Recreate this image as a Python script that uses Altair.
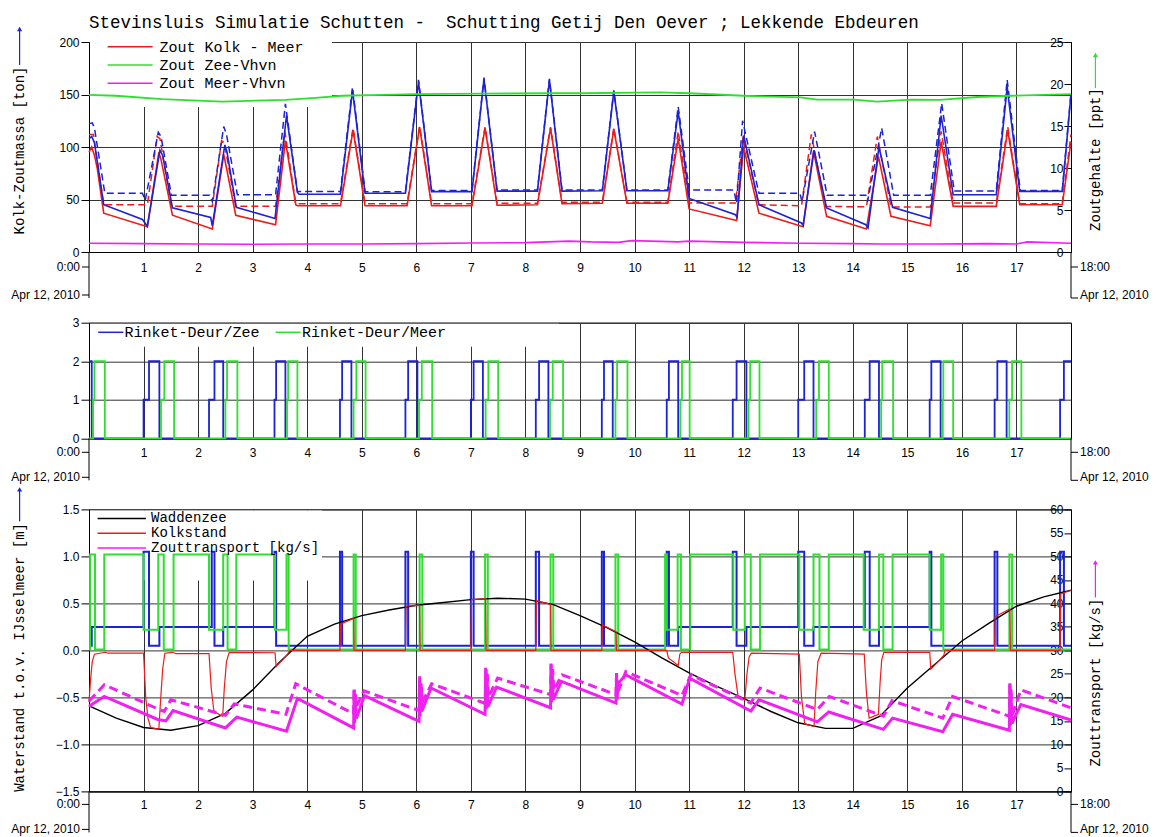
import altair as alt
import pandas as pd

# ---------------- texts ----------------
TITLE = "Stevinsluis Simulatie Schutten -\u00a0 Schutting Getij Den Oever ; Lekkende Ebdeuren"
START_LABEL = "0:00"
END_LABEL = "18:00"
DATE_LABEL = "Apr 12, 2010"
HOURS = list(range(1, 18))

P1_LEFT_TITLE = "Kolk-Zoutmassa [ton]"
P1_RIGHT_TITLE = "Zoutgehalte [ppt]"
P1_LEGEND = ["Zout Kolk - Meer", "Zout Zee-Vhvn", "Zout Meer-Vhvn"]
P1_TON_TICKS = [0, 50, 100, 150, 200]
P1_PPT_TICKS = [0, 5, 10, 15, 20, 25]

P2_LEGEND = ["Rinket-Deur/Zee", "Rinket-Deur/Meer"]
P2_TICKS = [0, 1, 2, 3]

P3_LEFT_TITLE = "Waterstand t.o.v. IJsselmeer [m]"
P3_RIGHT_TITLE = "Zouttransport [kg/s]"
P3_LEGEND = ["Waddenzee", "Kolkstand", "Zouttransport [kg/s]"]
P3_M_TICKS = [-1.5, -1.0, -0.5, 0.0, 0.5, 1.0, 1.5]
P3_KG_TICKS = [0, 5, 10, 15, 20, 25, 30, 35, 40, 45, 50, 55, 60]

# ---------------- panel 1 data: (hour, value) ----------------
# ton (left axis)
KOLK_MEER = [(0.0, 95), (0.05, 100), (0.1, 92), (0.15, 80), (0.27, 37), (1.07, 24), (1.28, 95), (1.32, 88),
             (1.53, 35), (2.26, 22), (2.47, 93), (2.52, 80), (2.69, 35), (3.42, 26), (3.6, 106), (3.79, 45),
             (3.82, 44), (4.61, 44), (4.84, 116), (5.06, 44), (5.83, 44), (6.06, 119), (6.28, 44), (7.02, 44),
             (7.26, 118), (7.48, 44.5), (8.22, 45), (8.46, 118), (8.67, 46), (9.41, 46.5), (9.62, 117),
             (9.86, 46.5), (10.61, 46.5), (10.8, 108), (11.0, 41), (11.87, 30), (12.0, 100), (12.28, 37),
             (13.09, 24), (13.28, 96), (13.52, 34), (14.25, 22), (14.47, 91), (14.7, 34), (15.42, 25),
             (15.62, 105), (15.84, 43.5), (16.63, 43.5), (16.84, 116), (17.06, 45), (17.84, 45), (18.0, 105)]
KOLK_MEER_B = [(0.0, 112), (0.08, 112), (0.27, 45), (1.07, 45), (1.25, 110), (1.3, 108), (1.51, 43.5),
               (2.26, 43.5), (2.43, 106), (2.48, 104), (2.69, 43.5), (3.42, 43.5), (3.59, 115), (3.79, 46),
               (4.61, 46), (4.84, 118), (5.06, 46), (5.83, 46), (6.06, 120), (6.28, 46), (7.02, 46), (7.26, 119),
               (7.48, 46.5), (8.22, 46.5), (8.46, 119), (8.67, 47.5), (9.41, 47.5), (9.62, 118), (9.86, 47.5),
               (10.61, 47.5), (10.8, 115), (11.0, 46.6), (11.85, 46.6), (11.99, 110), (12.28, 45), (13.06, 44),
               (13.24, 112), (13.5, 43.4), (14.25, 43), (14.45, 110), (14.7, 42.8), (15.42, 42.8), (15.62, 115),
               (15.84, 46.6), (16.63, 46.6), (16.84, 119.5), (17.06, 46), (17.84, 46), (18.0, 112)]
KOLK_ZEE = [(0.0, 108), (0.05, 110), (0.1, 104), (0.27, 45), (0.98, 31), (1.07, 24.5), (1.3, 97), (1.35, 92),
            (1.53, 42), (2.23, 33), (2.26, 25), (2.49, 102), (2.53, 95), (2.7, 42.5), (3.41, 32), (3.62, 130),
            (3.82, 57), (3.85, 55), (4.61, 55), (4.83, 154), (5.06, 56), (5.8, 56), (6.04, 162), (6.28, 57.5),
            (7.02, 57.5), (7.24, 165), (7.48, 58), (8.22, 58), (8.44, 164), (8.67, 58), (9.41, 58.3),
            (9.62, 153), (9.86, 58.3), (10.61, 58.3), (10.8, 134), (11.0, 51), (11.85, 35.5), (11.88, 33),
            (12.0, 111), (12.28, 45), (13.06, 27.6), (13.09, 25.4), (13.29, 97), (13.52, 42), (14.24, 26),
            (14.28, 23), (14.48, 100), (14.73, 42.5), (15.42, 32), (15.62, 130), (15.84, 54.5), (16.63, 54.5),
            (16.83, 157), (17.06, 57.7), (17.84, 57.7), (18.0, 150)]
KOLK_ZEE_B = [(0.0, 122), (0.06, 123), (0.1, 118), (0.29, 56), (0.98, 56), (1.03, 49), (1.27, 114), (1.32, 110),
              (1.51, 54), (2.21, 54), (2.26, 48), (2.47, 119.5), (2.52, 112), (2.72, 54.5), (3.42, 54.5),
              (3.6, 141), (3.82, 57.7), (4.61, 57.7), (4.83, 157), (5.06, 57.5), (5.8, 57.5), (6.04, 164),
              (6.28, 58.5), (7.02, 58.5), (7.24, 166), (7.48, 59), (8.22, 59), (8.44, 165), (8.67, 59),
              (9.41, 59), (9.62, 154), (9.86, 59), (10.61, 59), (10.8, 138.5), (11.0, 59), (11.82, 59),
              (11.87, 46.6), (11.98, 125), (12.28, 56), (13.03, 56), (13.07, 48), (13.3, 114.7), (13.53, 54),
              (14.24, 54), (14.27, 48), (14.53, 118), (14.75, 54), (15.42, 54), (15.63, 141.7), (15.86, 58),
              (16.63, 58), (16.83, 164), (17.07, 58.5), (17.84, 58.5), (18.0, 152)]
# ppt (right axis)
ZEE_VHVN = [(0, 18.7), (0.49, 18.6), (1.34, 18.2), (2.44, 17.9), (2.93, 18.0), (3.6, 18.1), (4.15, 18.35),
            (4.64, 18.6), (5.38, 18.7), (5.99, 18.8), (7.21, 18.85), (8.43, 18.9), (9.0, 18.9), (10.48, 19.0),
            (11.0, 18.9), (12.0, 18.6), (13.04, 18.4), (13.35, 18.15), (14.02, 18.15), (14.45, 17.9),
            (15.06, 18.15), (15.6, 18.1), (16.28, 18.45), (16.89, 18.6), (18.0, 18.8)]
MEER_VHVN = [(0, 1.05), (1, 1.0), (2, 0.95), (3, 0.92), (4, 0.95), (5, 0.95), (6, 1.0), (7, 1.08), (8, 1.12),
             (8.8, 1.3), (9.2, 1.2), (9.7, 1.15), (9.95, 1.35), (10.8, 1.2), (11.0, 1.3), (12.0, 1.15),
             (13.0, 1.05), (14.0, 1.0), (14.5, 0.95), (15.5, 0.95), (16.5, 1.0), (17.0, 0.95), (17.2, 1.2),
             (18.0, 1.05)]

# ---------------- panel 2 data (step after) ----------------
DEUR_ZEE = [(0, 2), (0.05, 0), (1.0, 1), (1.1, 2), (1.29, 0), (2.2, 1), (2.3, 2), (2.46, 0), (3.40, 1),
            (3.43, 2), (3.6, 0), (4.6, 1), (4.64, 2), (4.81, 0), (5.8, 1), (5.85, 2), (6.02, 0), (7.0, 1),
            (7.05, 2), (7.22, 0), (8.19, 1), (8.25, 2), (8.42, 0), (9.40, 1), (9.44, 2), (9.60, 0), (10.59, 1),
            (10.63, 2), (10.80, 0), (11.80, 1), (11.87, 2), (12.05, 0), (13.0, 1), (13.11, 2), (13.28, 0),
            (14.22, 1), (14.31, 2), (14.48, 0), (15.41, 1), (15.44, 2), (15.61, 0), (16.60, 1), (16.65, 2),
            (16.82, 0), (17.80, 1), (17.87, 2), (18.0, 2)]
DEUR_MEER = [(0, 0), (0.075, 1), (0.1, 2), (0.29, 0), (1.32, 1), (1.38, 2), (1.56, 0), (2.5, 1), (2.53, 2),
             (2.72, 0), (3.63, 1), (3.65, 2), (3.82, 0), (4.85, 1), (4.9, 2), (5.07, 0), (6.05, 1), (6.1, 2),
             (6.29, 0), (7.27, 1), (7.32, 2), (7.5, 0), (8.45, 1), (8.5, 2), (8.69, 0), (9.65, 1), (9.68, 2),
             (9.87, 0), (10.84, 1), (10.87, 2), (11.01, 0), (12.09, 1), (12.12, 2), (12.29, 0), (13.33, 1),
             (13.38, 2), (13.56, 0), (14.52, 1), (14.54, 2), (14.74, 0), (15.65, 1), (15.66, 2), (15.84, 0),
             (16.87, 1), (16.92, 2), (17.09, 0), (18.0, 0)]

# ---------------- panel 3 data ----------------
# metres (left axis)
WADDENZEE = [(0, -0.59), (0.5, -0.72), (1.0, -0.82), (1.5, -0.85), (2.0, -0.8), (2.5, -0.67), (3.0, -0.42),
             (3.5, -0.12), (4.0, 0.15), (4.5, 0.28), (5.0, 0.37), (5.5, 0.43), (6.0, 0.48), (6.5, 0.51),
             (7.0, 0.54), (7.5, 0.555), (8.0, 0.545), (8.5, 0.49), (9.0, 0.37), (9.5, 0.24), (10.0, 0.09),
             (10.5, -0.08), (11.0, -0.24), (11.5, -0.38), (12.0, -0.51), (12.5, -0.65), (13.0, -0.77),
             (13.5, -0.83), (14.0, -0.83), (14.5, -0.7), (15.0, -0.4), (15.5, -0.15), (16.0, 0.1), (16.5, 0.29),
             (17.0, 0.47), (17.5, 0.57), (18.0, 0.64)]
KOLKSTAND = [(0, -0.55), (0.03, -0.3), (0.06, -0.12), (0.1, -0.04), (0.3, -0.02), (0.35, -0.03), (1.0, -0.03),
             (1.04, -0.5), (1.08, -0.72), (1.13, -0.82), (1.28, -0.84), (1.31, -0.55), (1.35, -0.2),
             (1.39, -0.03), (1.53, -0.02), (1.6, -0.035), (2.2, -0.035), (2.24, -0.4), (2.29, -0.65),
             (2.45, -0.7), (2.48, -0.4), (2.52, -0.12), (2.57, -0.02), (3.41, -0.025), (3.43, -0.17),
             (3.55, -0.1), (3.64, -0.04), (3.68, 0.0), (4.6, 0.0), (4.61, 0.28), (4.85, 0.34), (4.86, 0.0),
             (5.8, 0.0), (5.81, 0.47), (6.06, 0.48), (6.07, 0.0), (7.0, 0.0), (7.01, 0.54), (7.27, 0.55),
             (7.28, 0.0), (8.19, 0.0), (8.2, 0.53), (8.46, 0.49), (8.47, 0.0), (9.4, 0.0), (9.41, 0.27),
             (9.66, 0.2), (9.67, 0.0), (10.59, 0.0), (10.62, -0.08), (10.8, -0.16), (10.83, -0.04),
             (10.86, -0.02), (11.8, -0.02), (11.84, -0.25), (11.9, -0.5), (12.02, -0.53), (12.06, -0.25),
             (12.1, -0.07), (12.14, -0.03), (13.02, -0.04), (13.06, -0.5), (13.12, -0.78), (13.29, -0.81),
             (13.32, -0.45), (13.36, -0.12), (13.42, -0.03), (14.21, -0.04), (14.25, -0.45), (14.3, -0.72),
             (14.47, -0.68), (14.5, -0.35), (14.53, -0.1), (14.57, -0.02), (15.41, -0.02), (15.43, -0.2),
             (15.55, -0.13), (15.67, -0.05), (15.69, 0.0), (16.6, 0.0), (16.61, 0.36), (16.88, 0.44),
             (16.89, 0.0), (17.8, 0.0), (17.81, 0.6), (18.0, 0.64)]
SCHUIF_ZEE = [(0, 0.05), (0.05, 0.25), (1.0, 1.05), (1.1, 0.05), (1.29, 0.25), (2.25, 1.05), (2.3, 0.05),
              (2.46, 0.25), (3.40, 1.05), (3.43, 0.05), (4.6, 1.05), (4.64, 0.05), (5.8, 1.05), (5.85, 0.05),
              (7.0, 1.05), (7.05, 0.05), (8.19, 1.05), (8.25, 0.05), (9.40, 1.05), (9.44, 0.05), (10.59, 1.05),
              (10.63, 0.05), (10.80, 0.25), (11.80, 1.05), (11.87, 0.05), (12.05, 0.25), (13.0, 1.05),
              (13.11, 0.05), (13.28, 0.25), (14.22, 1.05), (14.31, 0.05), (14.48, 0.25), (15.41, 1.05),
              (15.44, 0.05), (16.60, 1.05), (16.65, 0.05), (17.80, 1.05), (17.87, 0.05), (18.0, 0.05)]
SCHUIF_MEER = [(0, 0.01), (0.02, 1.02), (0.11, 0.01), (0.28, 1.02), (1.0, 0.22), (1.27, 1.02), (1.37, 0.01),
               (1.55, 1.02), (2.2, 0.22), (2.46, 1.02), (2.54, 0.01), (2.7, 1.02), (3.41, 0.22), (3.62, 1.02),
               (3.66, 0.01), (4.85, 1.02), (4.89, 0.01), (6.06, 1.02), (6.11, 0.01), (7.26, 1.02), (7.31, 0.01),
               (8.46, 1.02), (8.51, 0.01), (9.65, 1.02), (9.70, 0.01), (10.56, 1.02), (10.59, 0.22),
               (10.79, 1.02), (10.85, 0.01), (11.02, 1.02), (11.81, 0.22), (12.02, 1.02), (12.13, 0.01),
               (12.3, 1.02), (13.02, 0.22), (13.28, 1.02), (13.39, 0.01), (13.56, 1.02), (14.2, 0.22),
               (14.48, 1.02), (14.56, 0.01), (14.73, 1.02), (15.41, 0.22), (15.62, 1.02), (15.66, 0.01),
               (16.87, 1.02), (16.92, 0.01), (18.0, 0.01)]
# kg/s (right axis)
TRANSPORT = [(0.0, 18.1), (0.28, 20.2), (1.26, 15.3), (1.41, 15.0), (1.54, 17.2), (2.5, 13.5), (2.71, 15.8),
             (3.62, 12.8), (3.82, 19.8), (4.85, 13.5), (4.86, 21.5), (4.87, 14.5), (4.88, 20.5), (4.9, 15.5),
             (5.05, 20.4), (6.05, 14.9), (6.06, 24.5), (6.07, 16), (6.08, 23), (6.1, 17), (6.27, 22.0),
             (7.26, 16.4), (7.27, 26.3), (7.28, 17.5), (7.29, 25), (7.31, 18), (7.47, 22.2), (8.46, 17.8),
             (8.47, 27), (8.48, 19), (8.49, 25.5), (8.51, 19.5), (8.66, 23.4), (9.66, 18.8), (9.67, 25.2),
             (9.68, 19.5), (9.7, 23), (9.84, 24.8), (10.87, 18.6), (11.01, 24.1), (12.13, 17.1), (12.28, 19.5),
             (13.35, 14.8), (13.56, 16.9), (14.56, 13.2), (14.73, 15.6), (15.65, 12.7), (15.83, 16.4),
             (16.87, 13.0), (16.88, 23), (16.89, 14), (16.9, 21), (16.92, 14.5), (17.08, 18.5), (18.0, 15.2)]
TRANSPORT_B = [(0.0, 19.2), (0.28, 22.7), (1.29, 17.4), (1.38, 17.0), (1.5, 19.5), (2.5, 16.2), (2.66, 18.6),
               (3.61, 16.4), (3.79, 22.9), (4.85, 16.5), (4.86, 22), (4.87, 17), (4.88, 21), (4.9, 18),
               (5.04, 21.4), (6.05, 17.2), (6.06, 24.5), (6.07, 18), (6.09, 23), (6.11, 19), (6.28, 22.9),
               (7.27, 18.7), (7.28, 26), (7.29, 19.5), (7.3, 25), (7.32, 20), (7.49, 24.1), (8.46, 20.6),
               (8.47, 27.2), (8.48, 21), (8.5, 26), (8.52, 21.5), (8.67, 24.8), (9.66, 20.6), (9.67, 25),
               (9.69, 21), (9.84, 25.5), (10.87, 20.4), (11.03, 24.8), (12.13, 18.8), (12.3, 22.0),
               (13.35, 17.4), (13.57, 20.2), (14.56, 16.0), (14.72, 19.3), (15.65, 15.6), (15.83, 20.2),
               (16.87, 16.0), (16.88, 23.2), (16.89, 15), (16.9, 22), (16.92, 16), (17.08, 21.6), (18.0, 17.8)]

# ---------------- styling ----------------
MONO = "Liberation Mono"
SANS = "Liberation Sans"
RED = "#ec1c1c"
BLUE = "#1c22d6"
GREEN = "#2ee02e"
MAGENTA = "#f020f0"
GRID = "#333333"
W = 982
H1, H2, H3 = 210, 115.6, 282
ONE = alt.Data(values=[{}])


def x_axis(pad):
    return alt.Axis(values=HOURS, grid=True, ticks=False, tickSize=0, labelPadding=pad, labelBaseline="middle",
                    labelFont=SANS, labelFontSize=12, labelAngle=0, labelFlush=False, title=None,
                    domainColor="black", gridColor=GRID, gridOpacity=1, labelColor="black")


def left_axis(ticks, title=None, ty=0, fmt=None, grid=True):
    kw = dict(values=ticks, orient="left", grid=grid, gridColor=GRID, gridOpacity=1, tickSize=8, labelPadding=2,
              labelFont=SANS, labelFontSize=12, labelColor="black", tickColor="black", domainColor="black")
    if fmt:
        kw["format"] = fmt
    if title:
        kw.update(title=title, titleX=-69.4, titleY=ty, titleAngle=270, titleAlign="center",
                  titleBaseline="middle", titleFont=MONO, titleFontSize=14, titleFontWeight="normal",
                  titleColor="black")
    else:
        kw["title"] = None
    return alt.Axis(**kw)


def inner_right_axis(ticks, title, ty):
    return alt.Axis(values=ticks, orient="left", offset=-W, grid=False, tickSize=7, labelPadding=1,
                    labelFont=SANS, labelFontSize=12, labelColor="black", tickColor="black",
                    domainColor="black", title=title, titleX=24.4, titleY=ty, titleAngle=270,
                    titleAlign="center", titleBaseline="middle", titleFont=MONO, titleFontSize=14,
                    titleFontWeight="normal", titleColor="black")


def line(pairs, xax, domain, yax, color, width, dash=None, interp="linear"):
    kw = dict(color=color, strokeWidth=width, interpolate=interp, clip=False)
    if dash:
        kw["strokeDash"] = dash
    return alt.Chart(pd.DataFrame(pairs, columns=["t", "v"])).mark_line(**kw).encode(
        x=alt.X("t:Q", scale=alt.Scale(domain=[0, 18], nice=False, zero=False), axis=xax),
        y=alt.Y("v:Q", scale=alt.Scale(domain=domain, nice=False, zero=False), axis=yax),
    )


def rule(x, y, x2=None, y2=None, color="black", width=1.0):
    enc = dict(x=alt.value(x), y=alt.value(y))
    if x2 is not None:
        enc["x2"] = alt.value(x2)
    if y2 is not None:
        enc["y2"] = alt.value(y2)
    return alt.Chart(ONE).mark_rule(color=color, strokeWidth=width).encode(**enc)


def label(text, x, y, align="left", font=SANS, size=12):
    return alt.Chart(pd.DataFrame({"label": [text]})).mark_text(
        align=align, baseline="middle", font=font, fontSize=size, color="black").encode(
        x=alt.value(x), y=alt.value(y), text="label:N")


def box(x1, x2, y1, y2):
    return alt.Chart(ONE).mark_rect(color="white", opacity=1).encode(
        x=alt.value(x1), x2=alt.value(x2), y=alt.value(y1), y2=alt.value(y2))


def arrow(x, ytop, ybot, color):
    return [rule(x, ytop + 3, y2=ybot, color=color, width=1.2),
            alt.Chart(ONE).mark_point(shape="triangle-up", filled=True, size=26, color=color, opacity=1).encode(
                x=alt.value(x), y=alt.value(ytop + 3))]


def x_deco(h, lab, apr):
    return [
        rule(0, h, y2=h + apr + 3), rule(W, h, y2=h + apr + 3),
        rule(-7, h + lab, x2=0), rule(-7, h + apr, x2=0),
        rule(W, h + lab, x2=W + 7), rule(W, h + apr + 3, x2=W + 7),
        label(START_LABEL, -9, h + lab, align="right"),
        label(DATE_LABEL, -9, h + apr, align="right"),
        label(END_LABEL, W + 9, h + lab),
        label(DATE_LABEL, W + 9, h + apr),
    ]


def legend_entry(name, color, x1, x2, tx, y, width=1.5, size=15):
    return [rule(x1, y, x2=x2, color=color, width=width), label(name, tx, y, font=MONO, size=size)]


# ---------------- panel 1 ----------------
xa1 = x_axis(15)
la1 = left_axis(P1_TON_TICKS, P1_LEFT_TITLE, 108)
ra1 = inner_right_axis(P1_PPT_TICKS, P1_RIGHT_TITLE, 117)
p1_left = alt.layer(
    line(KOLK_MEER_B, xa1, [0, 200], la1, RED, 1.5, dash=[7, 4]),
    line(KOLK_MEER, xa1, [0, 200], la1, RED, 1.6),
    line(KOLK_ZEE_B, xa1, [0, 200], la1, BLUE, 1.5, dash=[7, 4]),
    line(KOLK_ZEE, xa1, [0, 200], la1, BLUE, 1.6),
)
p1_right = alt.layer(
    line(ZEE_VHVN, xa1, [0, 25], ra1, GREEN, 1.8),
    line(MEER_VHVN, xa1, [0, 25], ra1, MAGENTA, 1.6),
)
p1_leg = []
for name, col, y in zip(P1_LEGEND, [RED, GREEN, MAGENTA], [4.7, 23.0, 41.3]):
    p1_leg += legend_entry(name, col, 18.6, 63.6, 70.6, y)
p1 = alt.layer(
    box(1, 243, -1, 65), p1_left, p1_right, *p1_leg,
    *arrow(-69.4, -16, 23, BLUE), *arrow(1006.4, 10, 46, GREEN), *x_deco(H1, 15, 43)
).resolve_scale(y="independent").properties(
    width=W, height=H1,
    title=alt.TitleParams(TITLE, anchor="start", frame="group", font=MONO, fontSize=17.5,
                          fontWeight="normal", color="black", offset=-5))

# ---------------- panel 2 ----------------
xa2 = x_axis(14)
la2 = left_axis(P2_TICKS)
p2_leg = legend_entry(P2_LEGEND[0], BLUE, 9.2, 34.4, 35.6, 9.6) + \
    legend_entry(P2_LEGEND[1], GREEN, 186.6, 211.6, 213.0, 9.6)
p2 = alt.layer(
    box(1, 470, 1, 24),
    line(DEUR_ZEE, xa2, [0, 3], la2, BLUE, 1.8, interp="step-after"),
    line(DEUR_MEER, xa2, [0, 3], la2, GREEN, 1.8, interp="step-after"),
    *p2_leg, *x_deco(H2, 14, 39)
).properties(width=W, height=H2)

# ---------------- panel 3 ----------------
xa3 = x_axis(13)
la3 = left_axis(P3_M_TICKS, P3_LEFT_TITLE, 147.5, fmt=".1f")
ra3 = inner_right_axis(P3_KG_TICKS, P3_RIGHT_TITLE, 172.7)
p3_left = alt.layer(
    line(SCHUIF_ZEE, xa3, [-1.5, 1.5], la3, BLUE, 2.0, interp="step-after"),
    line(SCHUIF_MEER, xa3, [-1.5, 1.5], la3, GREEN, 2.0, interp="step-after"),
    line(WADDENZEE, xa3, [-1.5, 1.5], la3, "black", 1.4),
    line(KOLKSTAND, xa3, [-1.5, 1.5], la3, RED, 1.2),
)
p3_right = alt.layer(
    line(TRANSPORT_B, xa3, [0, 60], ra3, MAGENTA, 3.0, dash=[9, 5]),
    line(TRANSPORT, xa3, [0, 60], ra3, MAGENTA, 3.0),
)
p3_leg = []
for name, col, y in zip(P3_LEGEND, ["black", RED, MAGENTA], [9.0, 23.8, 38.6]):
    p3_leg += legend_entry(name, col, 8.6, 56.9, 62.0, y, size=14)
p3 = alt.layer(
    box(1, 233, 1, 71), p3_left, p3_right, *p3_leg,
    *arrow(-69.4, -23, 12, BLUE), *arrow(1006.4, 50, 88, MAGENTA), *x_deco(H3, 13, 38)
).resolve_scale(y="independent").properties(width=W, height=H3)

chart = alt.vconcat(p1, p2, p3, spacing=70.7, bounds="flush").properties(
    padding={"left": 10, "top": 13, "right": 5, "bottom": 0}, background="white"
).configure_view(stroke="black", strokeWidth=1).configure_axis(labelColor="black")

chart.save("out.html", embed_options={"renderer": "svg", "actions": False})
